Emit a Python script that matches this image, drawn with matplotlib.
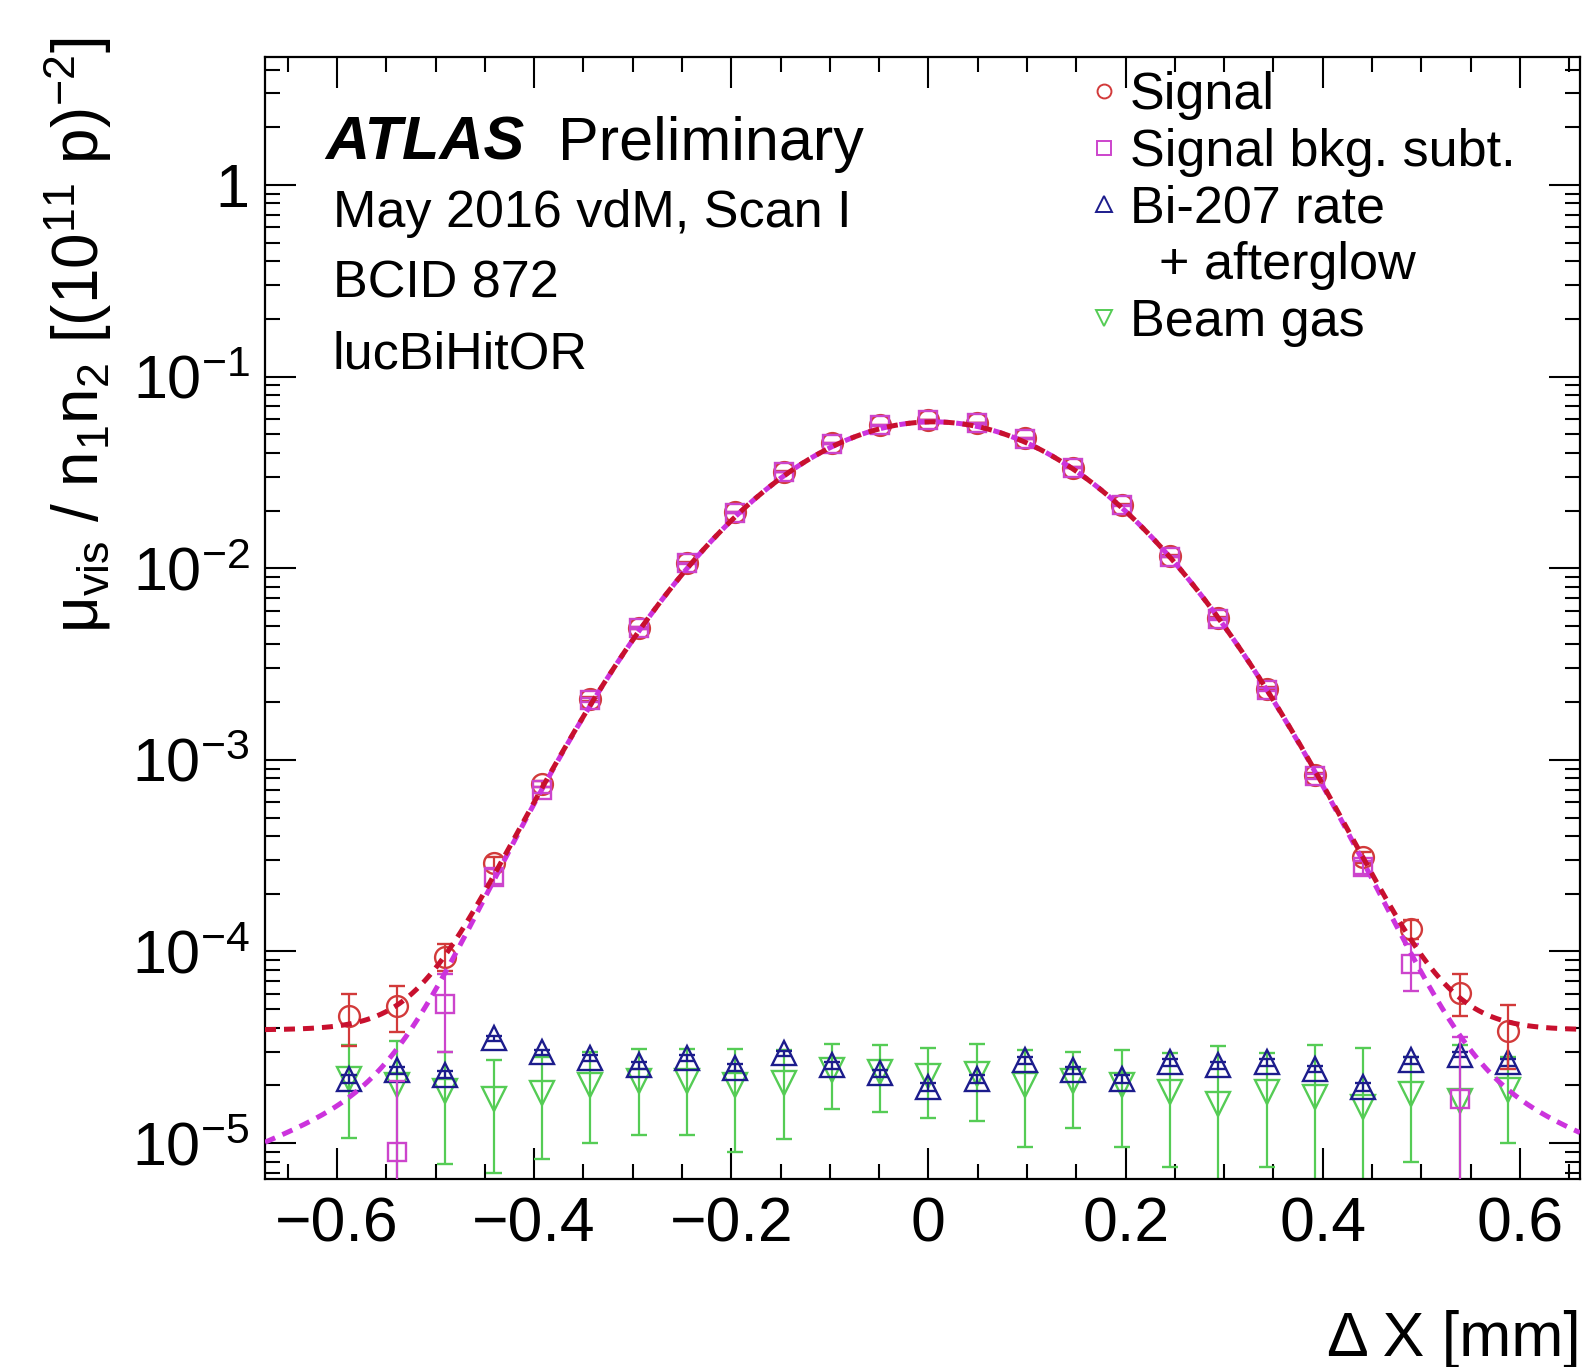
import numpy as np
import matplotlib
matplotlib.use("Agg")
import matplotlib.pyplot as plt
from matplotlib.ticker import FixedLocator, FixedFormatter, LogLocator, NullFormatter, MultipleLocator
from matplotlib.lines import Line2D

plt.rcParams['font.family'] = ['Liberation Sans', 'DejaVu Sans']
plt.rcParams['mathtext.fontset'] = 'custom'
plt.rcParams['mathtext.rm'] = 'Liberation Sans'
plt.rcParams['mathtext.it'] = 'Liberation Sans:italic'
plt.rcParams['mathtext.bf'] = 'Liberation Sans:bold'
plt.rcParams['mathtext.default'] = 'regular'

# scan points (separation, mm)
sep = [-0.588, -0.539, -0.490, -0.441, -0.392, -0.343, -0.294, -0.245, -0.196,
       -0.147, -0.098, -0.049, 0.0, 0.049, 0.098, 0.147, 0.196, 0.245, 0.294,
       0.343, 0.392, 0.441, 0.490, 0.539, 0.588]

# signal
sig = [4.6e-5, 5.2e-5, 9.4e-5, 2.9e-4, 7.5e-4, 2.08e-3, 4.9e-3, 1.07e-2, 1.96e-2,
       3.19e-2, 4.48e-2, 5.57e-2, 5.92e-2, 5.71e-2, 4.76e-2, 3.35e-2, 2.14e-2,
       1.16e-2, 5.5e-3, 2.35e-3, 8.3e-4, 3.1e-4, 1.31e-4, 6.1e-5, 3.84e-5]
sig_err = [1.4e-5, 1.4e-5, 1.5e-5, 2e-5, 2.5e-5, 4e-5, 6e-5, 9e-5, 1.2e-4, 1.5e-4,
           1.8e-4, 2e-4, 2e-4, 2e-4, 1.8e-4, 1.5e-4, 1.2e-4, 9e-5, 6e-5, 4e-5,
           2.5e-5, 2e-5, 1.5e-5, 1.5e-5, 1.4e-5]

# signal, background subtracted
sub = [np.nan, 9.0e-6, 5.3e-5, 2.46e-4, 7.0e-4, 2.05e-3, 4.85e-3, 1.06e-2, 1.95e-2,
       3.18e-2, 4.47e-2, 5.56e-2, 5.91e-2, 5.70e-2, 4.75e-2, 3.34e-2, 2.13e-2,
       1.15e-2, 5.45e-3, 2.32e-3, 8.2e-4, 2.75e-4, 8.6e-5, 1.7e-5, np.nan]
sub_err = [0, 1.2e-5, 2.3e-5, 2.2e-5, 2.5e-5, 4e-5, 6e-5, 9e-5, 1.2e-4, 1.5e-4,
           1.8e-4, 2e-4, 2e-4, 2e-4, 1.8e-4, 1.5e-4, 1.2e-4, 9e-5, 6e-5, 4e-5,
           2.5e-5, 2.2e-5, 2.4e-5, 1.9e-5, 0]

# Bi-207 + afterglow
bi = [2.17e-5, 2.4e-5, 2.28e-5, 3.53e-5, 2.98e-5, 2.77e-5, 2.55e-5, 2.77e-5, 2.48e-5,
      2.94e-5, 2.55e-5, 2.31e-5, 1.97e-5, 2.17e-5, 2.7e-5, 2.4e-5, 2.17e-5, 2.64e-5,
      2.55e-5, 2.64e-5, 2.44e-5, 1.97e-5, 2.7e-5, 2.9e-5, 2.64e-5]
bi_err = [1e-6] * 25

# beam gas
bg = [2.17e-5, 2.0e-5, 1.88e-5, 1.7e-5, 1.83e-5, 2.0e-5, 2.1e-5, 2.1e-5, 2.0e-5,
      2.05e-5, 2.4e-5, 2.35e-5, 2.25e-5, 2.3e-5, 2.0e-5, 2.1e-5, 2.0e-5, 1.85e-5,
      1.6e-5, 1.85e-5, 1.75e-5, 1.55e-5, 1.8e-5, 1.65e-5, 1.9e-5]
bg_err = [1.1e-5, 1.4e-5, 1.1e-5, 1.0e-5, 1.0e-5, 1.0e-5, 1.0e-5, 1.0e-5, 1.1e-5,
          1.0e-5, 0.9e-5, 0.9e-5, 0.9e-5, 1.0e-5, 1.05e-5, 0.9e-5, 1.05e-5, 1.1e-5,
          1.6e-5, 1.1e-5, 1.5e-5, 1.6e-5, 1.0e-5, 1.6e-5, 0.9e-5]

# fit parameters
fit_mean = 0.005
core_amp, core_sig = 0.058, 0.133
tail_amp, tail_sig = 4.9e-5, 0.38
fit_const = 3.9e-5

xticks = [-0.6, -0.4, -0.2, 0.0, 0.2, 0.4, 0.6]
xticklabels = ['\u22120.6', '\u22120.4', '\u22120.2', '0', '0.2', '0.4', '0.6']
yticks = [1e-5, 1e-4, 1e-3, 1e-2, 1e-1, 1]
yticklabels = ['$10^{-5}$', '$10^{-4}$', '$10^{-3}$', '$10^{-2}$', '$10^{-1}$', '1']

W, H = 1584, 1367
fig = plt.figure(figsize=(W / 100, H / 100), dpi=100)
ax = fig.add_axes([265 / W, 1 - 1179 / H, (1580 - 265) / W, (1179 - 57) / H])

c_red, c_redline = '#d23a3a', '#c8102e'
c_pink, c_pinkline = '#cc44cc', '#cc33dd'
c_blue, c_green = '#1c1c8c', '#55cc55'

mew, elw, cs = 1.7, 1.6, 6

ax.errorbar(sep, bg, yerr=bg_err, fmt='v', ms=17, mfc='none', mec=c_green, mew=mew,
            ecolor=c_green, elinewidth=elw, capsize=cs, capthick=elw, zorder=2)
ax.errorbar(sep, bi, yerr=bi_err, fmt='^', ms=17, mfc='none', mec=c_blue, mew=mew,
            ecolor=c_blue, elinewidth=elw, capsize=cs, capthick=elw, zorder=3)
ax.errorbar(sep, sig, yerr=sig_err, fmt='o', ms=15, mfc='none', mec=c_red, mew=mew,
            ecolor=c_red, elinewidth=elw, capsize=cs, capthick=elw, zorder=4)
ax.errorbar(sep, sub, yerr=sub_err, fmt='s', ms=13.5, mfc='none', mec=c_pink, mew=mew,
            ecolor=c_pink, elinewidth=elw, capsize=cs, capthick=elw, zorder=5)

xx = np.linspace(-0.673, 0.661, 600)
core = core_amp * np.exp(-(xx - fit_mean) ** 2 / (2 * core_sig ** 2))
tail = tail_amp * np.exp(-(xx - fit_mean) ** 2 / (2 * tail_sig ** 2))
ax.plot(xx, core + tail, color=c_pinkline, lw=3.6, dashes=(2.2, 1.6), zorder=6)
ax.plot(xx, core + fit_const, color=c_redline, lw=3.6, dashes=(2.2, 1.6), zorder=7)

ax.set_yscale('log')
ax.set_xlim(-0.673, 0.661)
ax.set_ylim(6.5e-6, 4.65)

ax.xaxis.set_major_locator(FixedLocator(xticks))
ax.xaxis.set_major_formatter(FixedFormatter(xticklabels))
ax.xaxis.set_minor_locator(MultipleLocator(0.05))
ax.yaxis.set_major_locator(FixedLocator(yticks))
ax.yaxis.set_major_formatter(FixedFormatter(yticklabels))
ax.yaxis.set_minor_locator(LogLocator(base=10, subs=np.arange(2, 10), numticks=20))
ax.yaxis.set_minor_formatter(NullFormatter())

ax.tick_params(which='both', direction='in', top=True, right=True, width=1.5, color='black')
ax.tick_params(which='major', length=22)
ax.tick_params(which='minor', length=11)
ax.tick_params(axis='x', which='major', labelsize=45, pad=12)
ax.tick_params(axis='y', which='major', labelsize=44, pad=11)
for s in ax.spines.values():
    s.set_linewidth(1.6)

fig.text(1581 / W, 1 - 1356 / H, '\u0394 X [mm]', fontsize=45, ha='right', va='baseline')
fig.text(78 / W, 1 - 38 / H, r'$\mu_{vis}$ / n$_{1}$n$_{2}$ [(10$^{11}$ p)$^{-2}$]',
         fontsize=46, rotation=90, ha='center', va='top')

fig.text(325 / W, 1 - 160 / H, 'ATLAS', fontsize=44, fontweight='bold', fontstyle='italic',
         va='baseline')
fig.text(558 / W, 1 - 160 / H, 'Preliminary', fontsize=44, va='baseline')
fig.text(333 / W, 1 - 227 / H, 'May 2016 vdM, Scan I', fontsize=37.5, va='baseline')
fig.text(333 / W, 1 - 297 / H, 'BCID 872', fontsize=37.5, va='baseline')
fig.text(333 / W, 1 - 369 / H, 'lucBiHitOR', fontsize=37.5, va='baseline')

hs = [Line2D([], [], ls='none', marker='o', ms=10, mfc='none', mec=c_red, mew=1.4),
      Line2D([], [], ls='none', marker='s', ms=10, mfc='none', mec=c_pink, mew=1.4),
      Line2D([], [], ls='none', marker='^', ms=12, mfc='none', mec=c_blue, mew=1.4),
      Line2D([], [], ls='none'),
      Line2D([], [], ls='none', marker='v', ms=12, mfc='none', mec=c_green, mew=1.4)]
labels = ['Signal', 'Signal bkg. subt.', 'Bi-207 rate', '  + afterglow', 'Beam gas']
ax.legend(hs, labels, loc='upper left', bbox_to_anchor=((1088 - 265) / 1315, 1 - (71 - 57) / 1122),
          frameon=False, fontsize=37.5, handlelength=0.6, handletextpad=0.2,
          labelspacing=0.15, borderpad=0, borderaxespad=0)

fig.savefig('out.png', dpi=100)
